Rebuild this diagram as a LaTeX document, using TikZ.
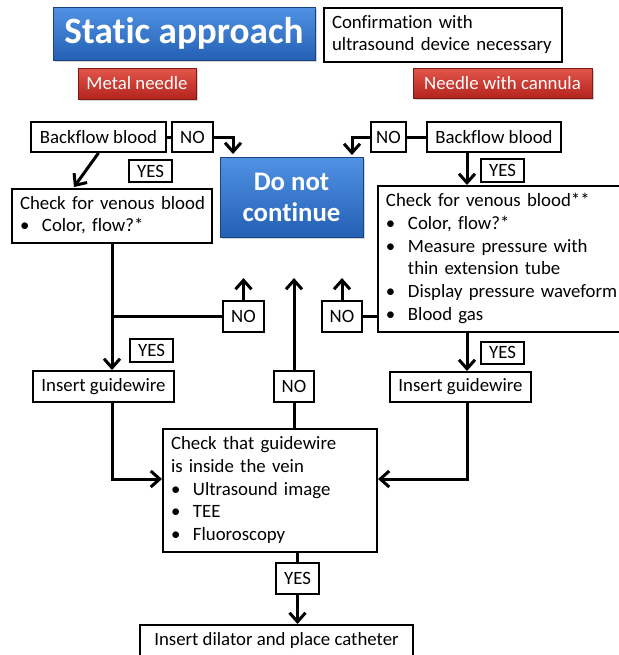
\documentclass[tikz,border=0pt]{standalone}
\usepackage{fontspec}
\setmainfont{Carlito}[Ligatures={NoCommon}]
\usetikzlibrary{arrows.meta,shadows}
\definecolor{blueT}{RGB}{80,146,228}
\definecolor{blueB}{RGB}{36,96,180}
\definecolor{redT}{RGB}{226,86,74}
\definecolor{redB}{RGB}{180,36,30}
\newcommand{\bul}{\makebox[11pt][l]{\textbullet}}
\newcommand{\ind}{\hspace*{11pt}}
\newcommand{\rows}[1]{\begin{tabular}{@{}l@{}}#1\end{tabular}}
\tikzset{
  txt/.style={font=\fontsize{9.4}{11.4}\selectfont},
  box/.style={txt, draw, line width=1pt, inner sep=0pt},
  lbox/.style={box, align=left, inner xsep=4pt},
  bluebox/.style={draw=blueB!70!black, line width=.4pt, top color=blueT, bottom color=blueB,
    text=white, inner sep=0pt, drop shadow={shadow xshift=1pt, shadow yshift=-1.2pt, opacity=.35}},
  redbox/.style={txt, draw=redB!70!black, line width=.4pt, top color=redT, bottom color=redB,
    text=white, inner sep=0pt, drop shadow={shadow xshift=1pt, shadow yshift=-1.2pt, opacity=.35}},
  conn/.style={line width=1.5pt},
  arr/.style={conn, -{Straight Barb[length=4.5pt,width=8pt]}}
}
\begin{document}
\begin{tikzpicture}[x=.5pt, y=-.5pt]
\useasboundingbox (0,0) rectangle (618,655);
% header
\node[bluebox, font=\fontsize{18.6}{22}\selectfont\bfseries, minimum width=131pt, minimum height=26.5pt] (title) at (184,33.5) {Static approach};
\node[lbox, text width=111pt, minimum height=27pt] (confirm) at (443,35) {\rows{Confirmation with\\ultrasound device necessary}};
\node[redbox, minimum width=59pt, minimum height=15.5pt] (metal) at (137,83.5) {Metal needle};
\node[redbox, minimum width=89.5pt, minimum height=15pt] (cannula) at (502.5,83) {Needle with cannula};
% spines
\coordinate (xl) at (112,0);
\coordinate (xc) at (295,0);
\coordinate (xr) at (467,0);
\coordinate (yup) at (0,278);
\coordinate (ybot) at (0,479);
\coordinate (sL) at (233,154);
\coordinate (sR) at (352,155);
\coordinate (cL) at (74,187);
% left column
\node[box, minimum width=67.5pt, minimum height=15pt] (bfL) at (98.5,137) {Backflow blood};
\node[box, minimum width=20.5pt, minimum height=15pt] (noL) at (192.5,137) {NO};
\node[box, minimum width=21.5pt, minimum height=11pt] (yesL) at (150.5,171) {YES};
\node[lbox, text width=92pt, minimum height=27pt] (chkL) at (112,216) {\rows{Check for venous blood\\\bul Color, flow?*}};
\node[box, minimum width=20.5pt, minimum height=15.5pt] (noML) at (243.5,316.5) {NO};
\node[box, minimum width=21.5pt, minimum height=11.5pt] (yesML) at (151.5,350.5) {YES};
\node[box, minimum width=70.5pt, minimum height=15.5pt] (igL) at (103.5,386.5) {Insert guidewire};
% middle
\node[bluebox, font=\fontsize{13.4}{15.5}\selectfont\bfseries, align=center, minimum width=71.5pt, minimum height=40pt] (stop) at (291.5,197) {Do not\\continue};
\node[box, minimum width=20pt, minimum height=15.5pt] (noC) at (294,386.5) {NO};
% right column
\node[box, minimum width=67pt, minimum height=15pt] (bfR) at (494,137) {Backflow blood};
\node[box, minimum width=17.5pt, minimum height=15pt] (noR) at (388.5,137) {NO};
\node[box, minimum width=21.5pt, minimum height=11.5pt] (yesR) at (502.5,170.5) {YES};
\node[lbox, text width=113pt, minimum height=73pt] (chkR) at (499,259) {\rows{Check for venous blood**\\\bul Color, flow?*\\\bul Measure pressure with\\\ind thin extension tube\\\bul Display pressure waveform\\\bul Blood gas}};
\node[box, minimum width=20pt, minimum height=15.5pt] (noMR) at (342,316.5) {NO};
\node[box, minimum width=21.5pt, minimum height=11pt] (yesMR) at (502.5,352.5) {YES};
\node[box, minimum width=70.5pt, minimum height=15pt] (igR) at (460.5,387) {Insert guidewire};
% bottom
\node[lbox, text width=99pt, minimum height=61.5pt] (chkG) at (270,490.5) {\rows{Check that guidewire\\is inside the vein\\\bul Ultrasound image\\\bul TEE\\\bul Fluoroscopy}};
\node[box, minimum width=21.5pt, minimum height=15.5pt] (yesB) at (297.5,578.5) {YES};
\node[box, minimum width=136.5pt, minimum height=15.5pt] (dil) at (276.5,640.5) {Insert dilator and place catheter};
% connectors
\draw[conn] (bfL) -- (noL);
\draw[arr] (noL.east) -| (sL);
\draw[arr] (bfL.south) -- (cL);
\draw[conn] (bfR) -- (noR);
\draw[arr] (noR.west) -| (sR);
\draw[arr] (bfR.south -| xr) -- (chkR.north -| xr);
\draw[arr] (chkL.south -| xl) -- (igL.north -| xl);
\draw[conn] (noML.west) -- (noML.west -| xl);
\draw[arr] (noML.north) -- (noML.north |- yup);
\draw[arr] (chkR.south -| xr) -- (igR.north -| xr);
\draw[conn] (noMR.east) -- (noMR.east -| chkR.west);
\draw[arr] (noMR.north) -- (noMR.north |- yup);
\draw[arr] (noC.north) -- (noC.north |- yup);
\draw[conn] (noC.south) -- (noC.south |- chkG.north);
\draw[arr] (igL.south -| xl) |- (chkG.west |- ybot);
\draw[arr] (igR.south -| xr) |- (chkG.east |- ybot);
\draw[conn] (chkG.south -| yesB) -- (yesB.north);
\draw[arr] (yesB.south) -- (dil.north -| yesB);
\end{tikzpicture}
\end{document}
